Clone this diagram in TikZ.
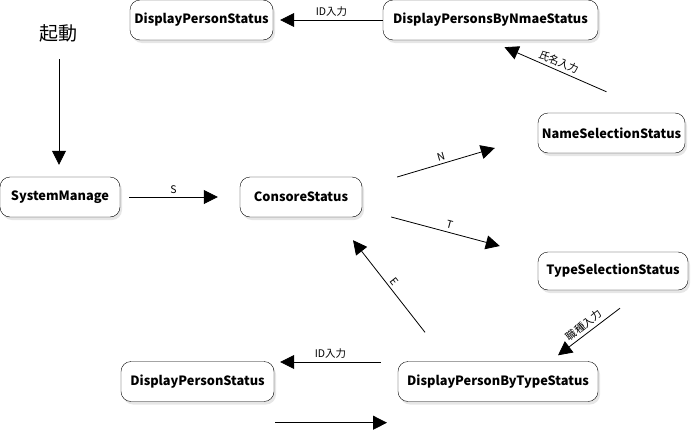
\documentclass[tikz,border=0pt]{standalone}
\usepackage{fontspec}
\setmainfont{Noto Sans CJK JP}
\usetikzlibrary{arrows.meta,shadows,calc}
\tikzset{
  state/.style={draw, rounded corners=10pt, fill=white, minimum height=40pt,
    inner xsep=3pt, font=\fontsize{12.8}{12.8}\selectfont\bfseries,
    drop shadow={shadow xshift=2pt, shadow yshift=-3pt, opacity=0.2}},
  arr/.style={-{Triangle[length=14pt,width=14pt]}, line width=0.8pt},
  lbl/.style={font=\fontsize{10.5}{10.5}\selectfont, inner sep=3pt}
}

\begin{document}
\begin{tikzpicture}[x=1pt,y=-1pt]
    \useasboundingbox (0,0) rectangle (695,431);

    % States
    \node[inner sep=0pt] (start) at (58,33) {\fontsize{19}{19}\selectfont 起動};
    \node[state, minimum width=120pt] (sys) at (60,197) {SystemManage};
    \node[state, minimum width=122pt] (cons) at (301,197) {ConsoreStatus};
    \node[state, minimum width=143pt] (dps1) at (201.5,20) {DisplayPersonStatus};
    \node[state, minimum width=215pt] (dpbn) at (490.5,20) {DisplayPersonsByNmaeStatus};
    \node[state, minimum width=147pt] (nss) at (611.5,133) {NameSelectionStatus};
    \node[state, minimum width=150pt, minimum height=38pt] (tss) at (613,271) {TypeSelectionStatus};
    \node[state, minimum width=200pt] (dpbt) at (498,381.5) {DisplayPersonByTypeStatus};
    \node[state, minimum width=153pt] (dps2) at (197.5,381.5) {DisplayPersonStatus};

    % Transitions
    \draw[arr] ($(start.south)+(1,17)$) -- ($(sys.north)+(-1,-12)$);
    \draw[arr] ($(sys.east)+(9,0)$) -- node[lbl,above] {S} ($(cons.west)+(-22,0)$);
    \draw[arr] (dpbn.west) -- node[lbl,above] {ID入力} ($(dps1.east)+(7,0)$);
    \draw[arr] ($(nss.north)+(-5,-21)$) -- node[lbl,pos=0.5,rotate=-24,anchor=south] {氏名入力} ($(dpbn.south)+(14,7)$);
    \draw[arr] ($(cons.east)+(35,-20)$) -- node[lbl,pos=0.47,rotate=16,anchor=south] {N} ($(nss.west)+(-43,15)$);
    \draw[arr] ($(cons.east)+(29,20)$) -- node[lbl,pos=0.52,rotate=-15,anchor=south] {T} ($(tss.west)+(-38,-25)$);
    \draw[arr] ($(dpbt.north)+(-73,-29)$) -- node[lbl,pos=0.5,rotate=-52,anchor=south] {E} ($(cons.south)+(52,23)$);
    \draw[arr] ($(tss.south)+(7,18)$) -- node[lbl,pos=0.5,rotate=38,anchor=south] {職種入力} ($(dpbt.north)+(60,-6)$);
    \draw[arr] ($(dpbt.west)+(-17,-19.5)$) -- node[lbl,above] {ID入力} ($(dps2.east)+(6,-19.5)$);
    \draw[arr] ($(dps2.south)+(77.5,21)$) -- ($(dpbt.south)+(-111,21)$);
\end{tikzpicture}
\end{document}
